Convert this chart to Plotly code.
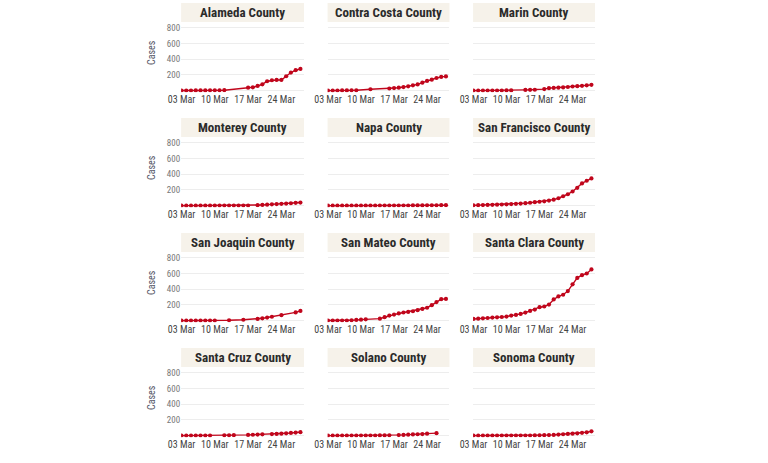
import plotly.graph_objects as go

# ---------------- data ----------------
counties = [
    "Alameda County", "Contra Costa County", "Marin County",
    "Monterey County", "Napa County", "San Francisco County",
    "San Joaquin County", "San Mateo County", "Santa Clara County",
    "Santa Cruz County", "Solano County", "Sonoma County",
]

alameda_days = [3, 4, 5, 6, 7, 8, 9, 10, 11, 12, 17, 18, 19, 20, 21, 22, 23, 24, 25, 26, 27, 28]
alameda_cases = [2, 2, 2, 3, 3, 3, 4, 4, 5, 6, 38, 43, 60, 81, 120, 133, 137, 137, 184, 231, 261, 278]

contra_days = [3, 4, 5, 6, 7, 8, 9, 12, 16, 17, 18, 19, 20, 21, 22, 23, 24, 25, 26, 27, 28]
contra_cases = [1, 1, 2, 3, 3, 4, 5, 18, 28, 33, 38, 46, 55, 68, 80, 102, 124, 140, 162, 176, 182]

marin_days = [3, 4, 5, 6, 7, 8, 9, 10, 11, 14, 15, 16, 18, 19, 20, 21, 22, 23, 24, 25, 26, 27, 28]
marin_cases = [1, 1, 1, 1, 2, 2, 2, 3, 3, 10, 11, 12, 20, 32, 35, 38, 42, 47, 53, 58, 62, 68, 74]

monterey_days = [3, 4, 5, 6, 7, 8, 9, 10, 11, 12, 13, 14, 15, 16, 17, 19, 20, 21, 22, 23, 24, 25, 26, 27, 28]
monterey_cases = [0, 0, 0, 0, 0, 0, 0, 0, 1, 1, 1, 1, 1, 2, 2, 6, 9, 13, 17, 20, 24, 27, 31, 36, 40]

napa_days = list(range(3, 29))
napa_cases = [0, 0, 0, 0, 0, 0, 0, 0, 0, 0, 0, 1, 1, 1, 1, 2, 2, 2, 3, 3, 3, 4, 4, 5, 6, 6]

sf_days = list(range(3, 29))
sf_cases = [4, 6, 8, 9, 11, 13, 15, 17, 20, 23, 27, 32, 37, 44, 50, 56, 65, 77, 95, 120, 146, 181, 228, 284, 318, 348]

sanjoaquin_days = [3, 4, 5, 6, 7, 8, 9, 10, 13, 16, 19, 20, 21, 22, 24, 27, 28]
sanjoaquin_cases = [1, 1, 1, 1, 1, 1, 1, 1, 5, 12, 22, 30, 40, 50, 70, 105, 125]

sanmateo_days = [3, 4, 5, 6, 7, 8, 9, 10, 11, 14, 15, 16, 17, 18, 19, 20, 21, 22, 23, 24, 25, 26, 27, 28]
sanmateo_cases = [2, 2, 2, 2, 2, 5, 9, 13, 17, 26, 44, 65, 78, 92, 104, 112, 120, 134, 150, 165, 198, 238, 275, 278]

santaclara_days = list(range(3, 29))
santaclara_cases = [22, 26, 30, 34, 39, 43, 47, 52, 65, 73, 86, 103, 125, 142, 172, 181, 206, 271, 310, 331, 378, 464, 546, 581, 602, 654]

santacruz_days = [3, 4, 5, 6, 7, 8, 9, 12, 13, 14, 17, 18, 19, 20, 22, 23, 24, 25, 26, 27, 28]
santacruz_cases = [1, 1, 1, 1, 1, 1, 1, 4, 5, 6, 10, 12, 14, 17, 20, 22, 26, 30, 35, 40, 45]

solano_days = [3, 4, 5, 6, 7, 8, 9, 10, 11, 12, 13, 14, 15, 16, 18, 19, 20, 21, 22, 23, 24, 26]
solano_cases = [1, 1, 1, 1, 1, 1, 1, 1, 1, 2, 2, 3, 3, 4, 8, 10, 13, 16, 18, 21, 26, 32]

sonoma_days = list(range(3, 29))
sonoma_cases = [1, 1, 1, 1, 1, 1, 1, 1, 1, 2, 2, 2, 2, 3, 4, 6, 8, 10, 14, 18, 22, 26, 30, 36, 43, 55]

series_days = [alameda_days, contra_days, marin_days, monterey_days, napa_days, sf_days,
               sanjoaquin_days, sanmateo_days, santaclara_days, santacruz_days, solano_days, sonoma_days]
series_cases = [alameda_cases, contra_cases, marin_cases, monterey_cases, napa_cases, sf_cases,
                sanjoaquin_cases, sanmateo_cases, santaclara_cases, santacruz_cases, solano_cases, sonoma_cases]

x_tick_dates = ["2020-03-03", "2020-03-10", "2020-03-17", "2020-03-24"]
x_tick_labels = ["03 Mar", "10 Mar", "17 Mar", "24 Mar"]
y_tick_vals = [0, 200, 400, 600, 800]
y_tick_labels = ["", "200", "400", "600", "800"]
y_axis_title = "Cases"

# ---------------- styling / layout ----------------
W, H = 768, 463
RED = "#C0061C"
STRIP = "#F6F2EA"
COND = "Roboto Condensed, Liberation Sans Narrow, Arial Narrow, DejaVu Sans Condensed, Roboto, sans-serif"

col_px = [(171, 296), (320, 444), (468, 592)]
Y_LO, Y_HI = -20, 870
k = 47.0 / 600.0  # px per case


def px_x(p):
    return p / W


def px_y(p):
    return 1 - p / H


fig = go.Figure()
shapes = []
annotations = []

for i, name in enumerate(counties):
    r, c = divmod(i, 3)
    n = i + 1
    xa = "x" if n == 1 else f"x{n}"
    ya = "y" if n == 1 else f"y{n}"
    xkey = "xaxis" if n == 1 else f"xaxis{n}"
    ykey = "yaxis" if n == 1 else f"yaxis{n}"

    dates = [f"2020-03-{d:02d}" for d in series_days[i]]
    fig.add_trace(go.Scatter(
        x=dates, y=series_cases[i], mode="lines+markers",
        line=dict(color=RED, width=1.4),
        marker=dict(color=RED, size=4.2),
        xaxis=xa, yaxis=ya, showlegend=False,
        hovertemplate="%{x|%d %b}: %{y}<extra></extra>",
    ))

    y800 = 28 + 115 * r
    top = y800 - (Y_HI - 800) * k
    bot = y800 + (800 - Y_LO) * k
    x0, x1 = col_px[c]

    fig.layout[xkey] = dict(
        domain=[px_x(x0), px_x(x1)], anchor=ya,
        type="date",
        range=["2020-03-02 22:00", "2020-03-28 18:00"],
        tickvals=x_tick_dates, ticktext=x_tick_labels,
        showgrid=False, zeroline=False, showline=False, ticks="",
        tickfont=dict(family=COND, size=10, color="#444444"),
        fixedrange=True,
    )
    fig.layout[ykey] = dict(
        domain=[px_y(bot), px_y(top)], anchor=xa,
        range=[Y_LO, Y_HI],
        tickvals=y_tick_vals, ticktext=y_tick_labels,
        showticklabels=(c == 0),
        showgrid=True, gridcolor="#EDEDED", gridwidth=1,
        zeroline=False, showline=False, ticks="",
        tickfont=dict(family=COND, size=9, color="#777777"),
        fixedrange=True,
    )

    # strip
    st_top, st_bot = y800 - 25, y800 - 6
    shapes.append(dict(type="rect", xref="paper", yref="paper",
                       x0=px_x(x0), x1=px_x(x1), y0=px_y(st_bot), y1=px_y(st_top),
                       fillcolor=STRIP, line=dict(width=0), layer="below"))
    annotations.append(dict(text=f"<b>{name}</b>", xref="paper", yref="paper",
                            x=px_x((x0 + x1) / 2), y=px_y((st_top + st_bot) / 2),
                            xanchor="center", yanchor="middle", showarrow=False,
                            font=dict(family=COND, size=13, color="#2B2B2B")))
    if c == 0:
        annotations.append(dict(text=y_axis_title, xref="paper", yref="paper",
                                x=px_x(141), y=px_y((top + bot) / 2 - 5),
                                xanchor="center", yanchor="middle", showarrow=False,
                                textangle=-90,
                                font=dict(family=COND, size=10, color="#555566")))

fig.update_layout(
    width=W, height=H,
    margin=dict(l=0, r=0, t=0, b=0),
    paper_bgcolor="white", plot_bgcolor="white",
    shapes=shapes, annotations=annotations,
    font=dict(family=COND),
)

fig.write_html("out.html", config={"displayModeBar": False},
               post_script="document.body.style.margin='0px';document.body.style.overflow='hidden';")
